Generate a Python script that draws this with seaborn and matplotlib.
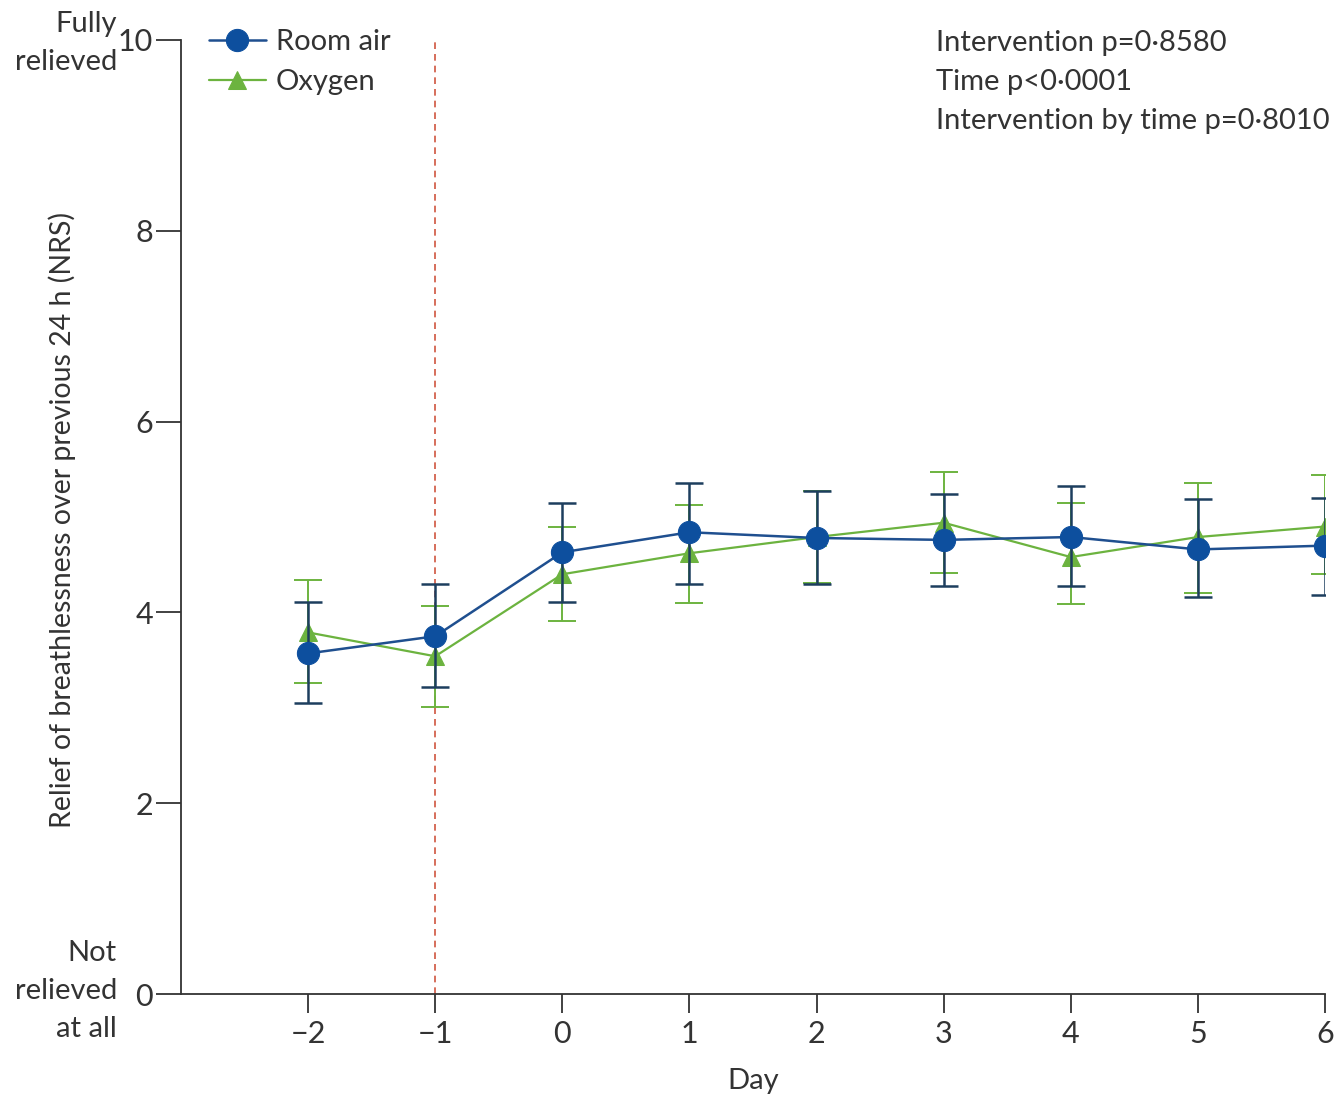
import numpy as np
import pandas as pd
import seaborn as sns
import matplotlib.pyplot as plt

days = [-2, -1, 0, 1, 2, 3, 4, 5, 6]
room_mean = [3.57, 3.75, 4.63, 4.84, 4.78, 4.76, 4.79, 4.66, 4.70]
room_lo = [3.05, 3.22, 4.11, 4.30, 4.30, 4.28, 4.28, 4.16, 4.18]
room_hi = [4.11, 4.30, 5.15, 5.36, 5.27, 5.24, 5.32, 5.19, 5.20]
oxy_mean = [3.79, 3.54, 4.40, 4.62, 4.79, 4.94, 4.58, 4.79, 4.90]
oxy_lo = [3.26, 3.01, 3.91, 4.10, 4.31, 4.41, 4.09, 4.20, 4.40]
oxy_hi = [4.34, 4.07, 4.89, 5.13, 5.27, 5.47, 5.15, 5.36, 5.44]
y_ticks = [0, 2, 4, 6, 8, 10]
x_ticks = days
stats_text = ["Intervention p=0·8580", "Time p<0·0001", "Intervention by time p=0·8010"]

sns.set_style("ticks")
plt.rcParams['font.family'] = ['Lato', 'DejaVu Sans']
txt = "#333333"
blue = "#0d4f9e"
navy = "#1d3e5e"
green = "#6cb33f"

fig = plt.figure(figsize=(13.39, 10.98), dpi=100)
ax = fig.add_axes([181 / 1339, 0.0947, 1144 / 1339, 0.8689])

ax.axvline(-1, color="#d0553f", ls=(0, (4, 3)), lw=1.2, zorder=1)

# oxygen first so room air sits on top
ax.errorbar(days, oxy_mean,
            yerr=[np.subtract(oxy_mean, oxy_lo), np.subtract(oxy_hi, oxy_mean)],
            fmt='none', ecolor=green, elinewidth=1.4, capsize=10, capthick=1.4, zorder=2)
sns.lineplot(x=days, y=oxy_mean, ax=ax, color=green, lw=1.6, marker='^',
             markersize=13, markeredgecolor=green, label="Oxygen", zorder=3)
ax.errorbar(days, room_mean,
            yerr=[np.subtract(room_mean, room_lo), np.subtract(room_hi, room_mean)],
            fmt='none', ecolor=navy, elinewidth=1.8, capsize=10, capthick=1.8, zorder=4)
sns.lineplot(x=days, y=room_mean, ax=ax, color="#1f4f8f", lw=1.8, marker='o',
             markersize=16, markerfacecolor=blue, markeredgecolor=blue,
             label="Room air", zorder=5)

ax.set_xlim(-3, 6)
ax.set_ylim(0, 10)
ax.set_yticks(y_ticks)
ax.set_xticks(x_ticks)
ax.set_xticklabels([str(d).replace('-', '\u2212') for d in x_ticks])
ax.tick_params(axis='both', labelsize=22, colors=txt, length=14, width=1.3)
ax.tick_params(axis='y', length=18, pad=2)
ax.tick_params(axis='x', pad=5)
for s in ['left', 'bottom']:
    ax.spines[s].set_color(txt)
    ax.spines[s].set_linewidth(1.3)
sns.despine(ax=ax)

ax.set_xlabel("Day", fontsize=21, color=txt, labelpad=14)
ax.set_ylabel("Relief of breathlessness over previous 24 h (NRS)", fontsize=20.5,
              color=txt)
ax.yaxis.set_label_coords(76 / 1339, 1 - 520 / 1098, transform=fig.transFigure)

fig.text(117 / 1339, 1 - 43 / 1098, "Fully\nrelieved", ha='right', va='center',
         fontsize=21, color=txt, linespacing=1.55)
fig.text(117 / 1339, 1 - 991 / 1098, "Not\nrelieved\nat all", ha='right', va='center',
         fontsize=21, color=txt, linespacing=1.55)
fig.text(936 / 1339, 1 - 82 / 1098, "\n".join(stats_text), ha='left', va='center',
         fontsize=21, color=txt, linespacing=1.6)

h, l = ax.get_legend_handles_labels()
order = [l.index("Room air"), l.index("Oxygen")]
leg = ax.legend([h[i] for i in order], [l[i] for i in order], loc='upper left',
                bbox_to_anchor=(16 / 1144, 1.024), frameon=False, fontsize=21,
                handlelength=1.95, handletextpad=0.35, labelspacing=0.5, borderaxespad=0)
for t in leg.get_texts():
    t.set_color(txt)

fig.savefig("out.png", dpi=100)
